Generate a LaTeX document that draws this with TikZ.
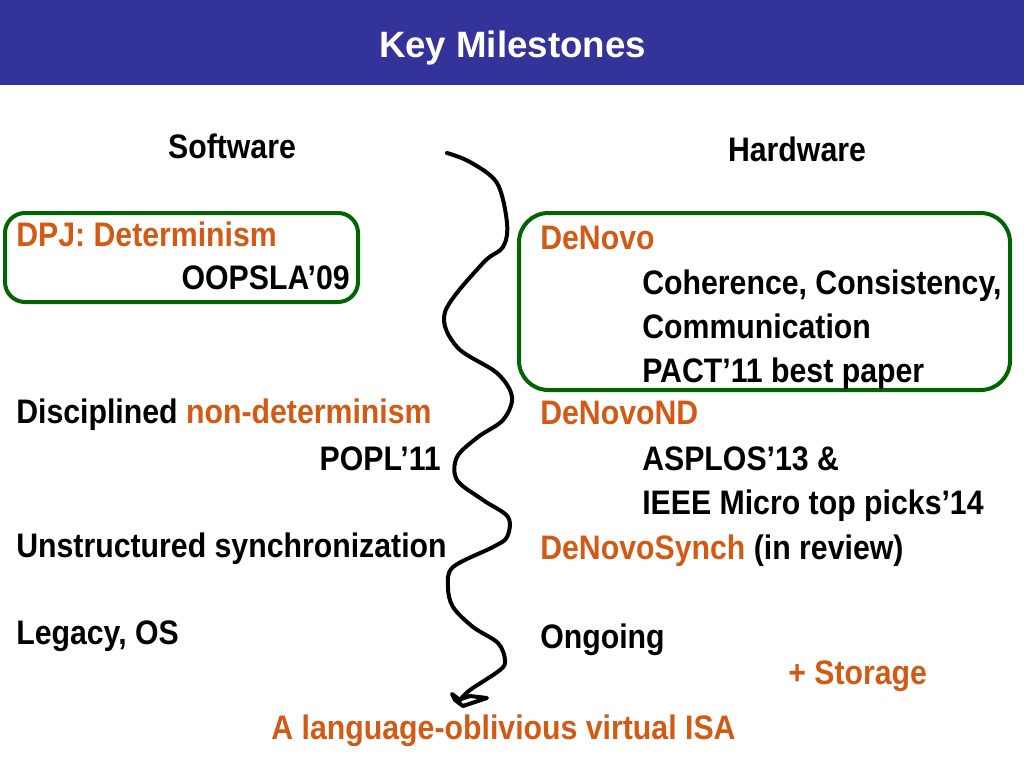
\documentclass[tikz,border=0pt]{standalone}
\usepackage{fontspec}
\setmainfont{Liberation Sans}[FakeStretch=0.89]
\newfontfamily\titlefont{Liberation Sans}
\definecolor{barblue}{RGB}{51,51,153}
\definecolor{orng}{RGB}{210,90,20}
\definecolor{gbox}{RGB}{0,100,0}
\begin{document}
\begin{tikzpicture}[x=0.75pt,y=-0.75pt,
  txt/.style={inner sep=0pt,font=\fontsize{25.5}{30}\selectfont\bfseries},
  lt/.style={txt,anchor=base west},
  rt/.style={txt,anchor=base east},
  ct/.style={txt,anchor=base},
  hl/.style={orng},
  frame/.style={draw=gbox,line width=3pt,rounded corners=#1},
  wave/.style={line width=3pt,line cap=round,line join=round}]
\useasboundingbox (0,0) rectangle (1024,768);
\fill[barblue] (0,0) rectangle (1024,85);
\node[inner sep=0pt,font=\titlefont\fontsize{27.5}{32}\selectfont\bfseries,text=white,anchor=base] (title) at (512.5,57) {Key Milestones};
% headings
\node[ct] (sw) at (232,158) {Software};
\node[ct] (hw) at (797,161) {Hardware};
% boxes
\draw[frame=15pt] (5,213) rectangle (358,302);
\draw[frame=22pt] (519,213) rectangle (1010,390);
% software
\node[lt,hl] (dpj) at (16,246) {DPJ: Determinism};
\node[rt] (oop) at (350,289) {OOPSLA’09};
\node[lt] (dis) at (16,423) {Disciplined \textcolor{orng}{non-determinism}};
\node[rt] (popl) at (441,470) {POPL’11};
\node[lt] (uns) at (16,557) {Unstructured synchronization};
\node[lt] (leg) at (16,644) {Legacy, OS};
% hardware
\node[lt,hl] (dn) at (540,249) {DeNovo};
\node[lt] (coh) at (642,294) {Coherence, Consistency,};
\node[lt] (com) at (642,338) {Communication};
\node[lt] (pact) at (642,382) {PACT’11 best paper};
\node[lt,hl] (dnd) at (540,424) {DeNovoND};
\node[lt] (asp) at (642,470) {ASPLOS’13 \&};
\node[lt] (ieee) at (642,514) {IEEE Micro top picks’14};
\node[lt] (syn) at (540,559) {\textcolor{orng}{DeNovoSynch} (in review)};
\node[lt] (ong) at (540,648) {Ongoing};
\node[lt,hl] (sto) at (788,684) {+ Storage};
\node[ct,hl] (isa) at (503.5,739) {A language-oblivious virtual ISA};
% wavy line
\draw[wave] plot[smooth,tension=0.55] coordinates {
 (447,153) (470,162) (497,183) (507,223) (503,247) (483,263) (445,312)
 (457,347) (497,373) (512,397) (503,420) (478,437) (457,457) (457,480)
 (483,500) (508,517) (507,537) (493,547) (453,567) (448,587) (453,607)
 (473,627) (498,643) (505,660) (500,670) (470,690) (460,700)};
\draw[wave] (460,700) -- (452,694) -- (455,700) -- (463,706) -- (487,698) -- (470,696) -- (458,700);
\end{tikzpicture}
\end{document}
